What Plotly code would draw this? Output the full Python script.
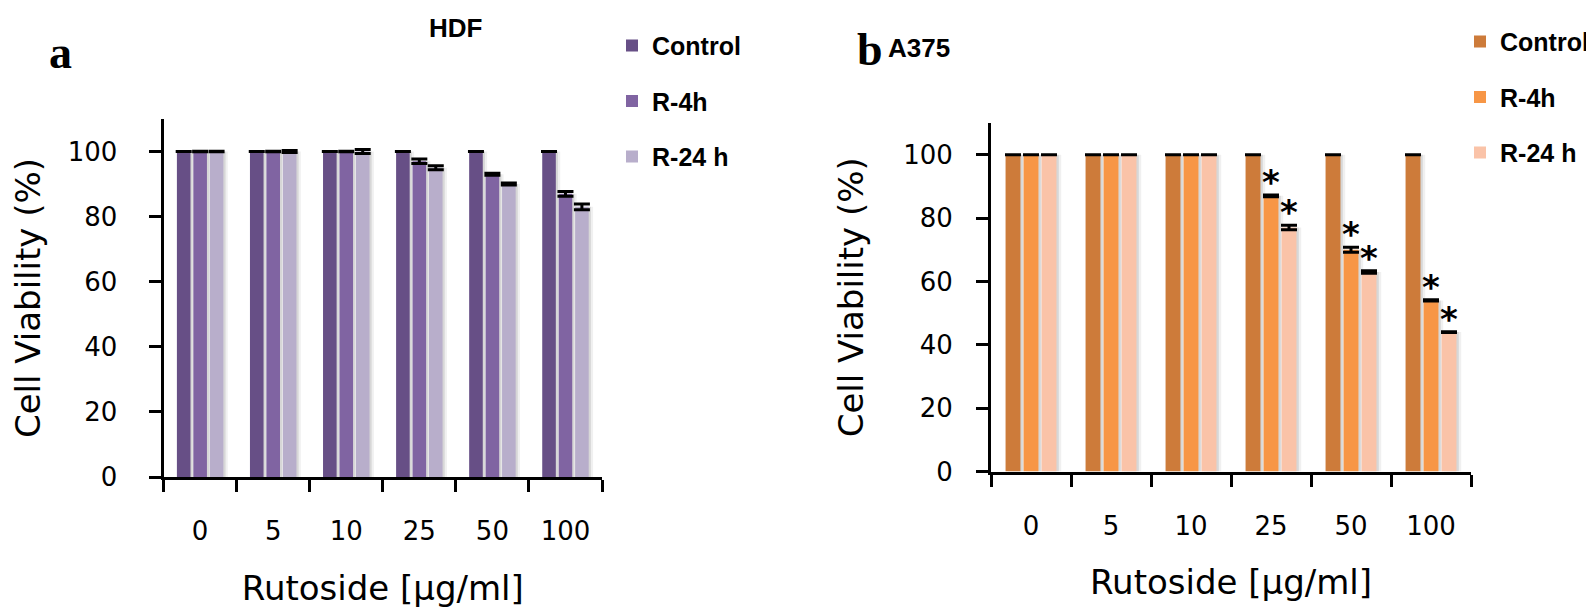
import plotly.graph_objects as go

categories = ["0", "5", "10", "25", "50", "100"]
series_names = ["Control", "R-4h", "R-24 h"]

hdf_control = [100, 100, 100, 100, 100, 100]
hdf_r4h = [100, 100, 100, 97, 93, 87]
hdf_r24h = [100, 100, 100, 95, 90, 83]
hdf_control_err = [0, 0, 0, 0, 0, 0]
hdf_r4h_err = [0.1, 0.1, 0.1, 0.7, 0.3, 0.7]
hdf_r24h_err = [0.1, 0.3, 0.6, 0.6, 0.3, 0.9]

a375_control = [100, 100, 100, 100, 100, 100]
a375_r4h = [100, 100, 100, 87, 70, 54]
a375_r24h = [100, 100, 100, 77, 63, 44]
a375_control_err = [0, 0, 0, 0, 0, 0]
a375_r4h_err = [0, 0, 0, 0.3, 0.8, 0.2]
a375_r24h_err = [0, 0, 0, 0.7, 0.4, 0.1]

a375_r4h_sig = [False, False, False, True, True, True]
a375_r24h_sig = [False, False, False, True, True, True]

hdf_colors = ["#674F86", "#8064A2", "#B8AECB"]
a375_colors = ["#CD7B3A", "#F79646", "#FAC3A8"]

offsets = [-0.318, -0.093, 0.132]
bar_w = 0.186

# The page body has an 8px default margin; size the figure so it fills the window.
PAGE_OFF = 8
W, H = 1594 - PAGE_OFF, 616 - PAGE_OFF


def px(x):
    return (x - PAGE_OFF) / W


def py(y):
    return 1 - (y - PAGE_OFF) / H


TICK_FONT = dict(family="DejaVu Sans", size=26, color="black")
TITLE_FONT = dict(family="DejaVu Sans", size=34, color="black")
LEGEND_FONT = dict(family="Liberation Sans", size=25, color="black", weight="bold")

fig = go.Figure()

panels = [
    ("x", "y", "legend", [hdf_control, hdf_r4h, hdf_r24h],
     [hdf_control_err, hdf_r4h_err, hdf_r24h_err], hdf_colors),
    ("x2", "y2", "legend2", [a375_control, a375_r4h, a375_r24h],
     [a375_control_err, a375_r4h_err, a375_r24h_err], a375_colors),
]

for xa, ya, leg, vals, errs, cols in panels:
    # soft shadows (Excel-like)
    for k in range(3):
        for sh, alpha in ((0.03, 0.10), (0.06, 0.06)):
            fig.add_trace(go.Bar(
                x=categories, y=vals[k], xaxis=xa, yaxis=ya,
                offset=offsets[k] + sh, width=bar_w,
                marker=dict(color=f"rgba(0,0,0,{alpha})", line=dict(width=0)),
                showlegend=False, hoverinfo="skip"))
    for k in range(3):
        fig.add_trace(go.Bar(
            x=categories, y=vals[k], xaxis=xa, yaxis=ya, name=series_names[k],
            offset=offsets[k], width=bar_w, legend=leg, legendgroup=f"{leg}{k}",
            marker=dict(color=cols[k], line=dict(width=0)),
            error_y=dict(type="data", array=errs[k], visible=True,
                         color="black", thickness=3, width=8)))

# significance stars
for vals, errs, sig, k in ((a375_r4h, a375_r4h_err, a375_r4h_sig, 1),
                           (a375_r24h, a375_r24h_err, a375_r24h_sig, 2)):
    for i, s in enumerate(sig):
        if s:
            fig.add_annotation(
                x=i + offsets[k] + bar_w / 2, y=vals[i] + errs[i],
                xref="x2", yref="y2", text="*", showarrow=False,
                yanchor="bottom", yshift=-9,
                font=dict(family="DejaVu Sans", size=34, color="black", weight="bold"))

axis_common = dict(showline=True, linewidth=3, linecolor="black",
                   ticks="outside", tickwidth=3, tickcolor="black",
                   tickfont=TICK_FONT, showgrid=False, zeroline=False,
                   automargin=False)

xcommon = dict(type="category", tickson="boundaries", ticklen=12,
               range=[-0.5, 5.5], ticklabelstandoff=29)
ycommon = dict(range=[0, 110], tickvals=[0, 20, 40, 60, 80, 100], ticklen=12)

fig.update_layout(
    width=W, height=H,
    margin=dict(l=0, r=0, t=0, b=0),
    paper_bgcolor="white", plot_bgcolor="white",
    barmode="overlay",
    showlegend=True,
    xaxis=dict(domain=[px(163.6), px(602)], anchor="y",
               title=dict(text="Rutoside [µg/ml]", font=TITLE_FONT, standoff=31),
               **xcommon, **axis_common),
    yaxis=dict(domain=[py(477), py(119)], anchor="x", ticklabelstandoff=26,
               title=dict(text="Cell Viability (%)", font=TITLE_FONT, standoff=40),
               **ycommon, **axis_common),
    xaxis2=dict(domain=[px(991), px(1471)], anchor="y2",
                title=dict(text="Rutoside [µg/ml]", font=TITLE_FONT, standoff=31),
                **xcommon, **axis_common),
    yaxis2=dict(domain=[py(471.5), py(123)], anchor="x2", ticklabelstandoff=18,
                title=dict(text="Cell Viability (%)", font=TITLE_FONT, standoff=30),
                **ycommon, **axis_common),
    legend=dict(x=px(612), y=py(22.8), xanchor="left", yanchor="top",
                bgcolor="rgba(0,0,0,0)", tracegroupgap=20, font=LEGEND_FONT),
    legend2=dict(x=px(1460), y=py(18.7), xanchor="left", yanchor="top",
                 bgcolor="rgba(0,0,0,0)", tracegroupgap=20, font=LEGEND_FONT),
)

# panel titles and letters, positioned in window pixels
labels = [
    ("HDF", 455, 28, dict(family="Liberation Sans", size=26, weight="bold")),
    ("A375", 919, 48, dict(family="Liberation Sans", size=26, weight="bold")),
    ("a", 60, 52, dict(family="Liberation Serif", size=46, weight="bold")),
    ("b", 870, 50, dict(family="Liberation Serif", size=46, weight="bold")),
]
for txt, lx, ly, f in labels:
    fig.add_annotation(x=px(lx), y=py(ly), xref="paper", yref="paper",
                       xanchor="center", yanchor="middle", text=txt,
                       showarrow=False, font=dict(color="black", **f))

fig.write_html("out.html")
